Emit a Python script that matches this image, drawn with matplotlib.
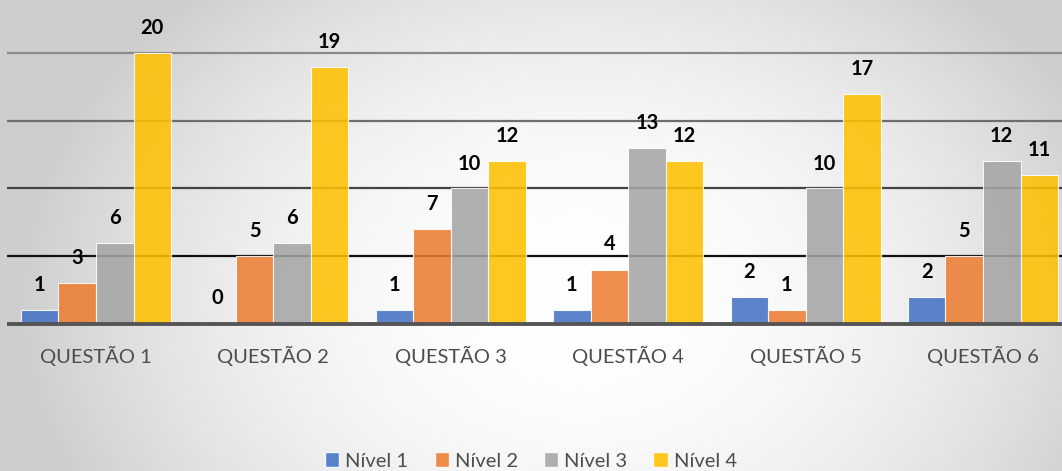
import numpy as np
import matplotlib
matplotlib.use("Agg")
import matplotlib.pyplot as plt
from matplotlib.patches import Patch

# chart data
questoes = ["QUESTÃO 1", "QUESTÃO 2", "QUESTÃO 3", "QUESTÃO 4", "QUESTÃO 5", "QUESTÃO 6"]
nivel_1 = [1, 0, 1, 1, 2, 2]
nivel_2 = [3, 5, 7, 4, 1, 5]
nivel_3 = [6, 6, 10, 13, 10, 12]
nivel_4 = [20, 19, 12, 12, 17, 11]
series_names = ["Nível 1", "Nível 2", "Nível 3", "Nível 4"]
colors = ["#4472C4", "#ED7D31", "#A5A5A5", "#FFC000"]

W, H = 1062, 471
fig = plt.figure(figsize=(W / 100, H / 100), dpi=100)

# radial gray background
bg = fig.add_axes([0, 0, 1, 1])
yy, xx = np.mgrid[0:H, 0:W]
r2 = ((xx - 580) / 560.0) ** 2 + ((yy - 300) / 420.0) ** 2
shade = 1 - 0.19 * np.clip(r2, 0, 1)
bg.imshow(np.dstack([shade] * 3), extent=[0, W, H, 0], aspect="auto")
bg.axis("off")

# main axes: baseline at 323.5 px from top, 13.5 px per unit
y0 = 323.5
ax = fig.add_axes([0, (H - y0) / H, 1, y0 / H])
ax.set_facecolor("none")
ax.set_xlim(-96 / 177.4, (W - 96) / 177.4)
ax.set_ylim(0, y0 / 13.5)
for s in ax.spines.values():
    s.set_visible(False)
ax.set_yticks([])
ax.tick_params(axis="x", length=0, pad=16, labelsize=14.5, labelcolor="#4d4d4d")
ax.set_xticks(range(len(questoes)))
ax.set_xticklabels(questoes, fontfamily="Lato")

grid_cols = {5: "#111111", 10: "#444444", 15: "#6e6e6e", 20: "#8a8a8a"}
for v, c in grid_cols.items():
    ax.hlines(v, -0.5, 6, color=c, lw=1.6, zorder=1)
ax.hlines(0, -0.5, 6, color="#555555", lw=2.8, zorder=4, clip_on=False)

x = np.arange(len(questoes))
w = 0.2114
for k, vals in enumerate([nivel_1, nivel_2, nivel_3, nivel_4]):
    pos = x + (k - 1.5) * w
    ax.bar(pos, vals, width=w, color=colors[k], alpha=0.87,
           edgecolor="white", linewidth=0.8, zorder=2)
    for px, v in zip(pos, vals):
        ax.annotate(str(v), (px, v), xytext=(0, 18), textcoords="offset points",
                    ha="center", va="center", fontsize=14.5, fontweight="bold",
                    fontfamily="Lato", color="black", zorder=5)

handles = [Patch(facecolor=c, edgecolor="white", alpha=0.87) for c in colors]
fig.legend(handles, series_names, loc="center", bbox_to_anchor=(0.5, (H - 461) / H),
           ncol=4, frameon=False, prop={"family": "Lato", "size": 14.5},
           labelcolor="#4d4d4d", handlelength=0.7, handleheight=0.7,
           handletextpad=0.3, columnspacing=1.3)

fig.savefig("out.png", dpi=100)
